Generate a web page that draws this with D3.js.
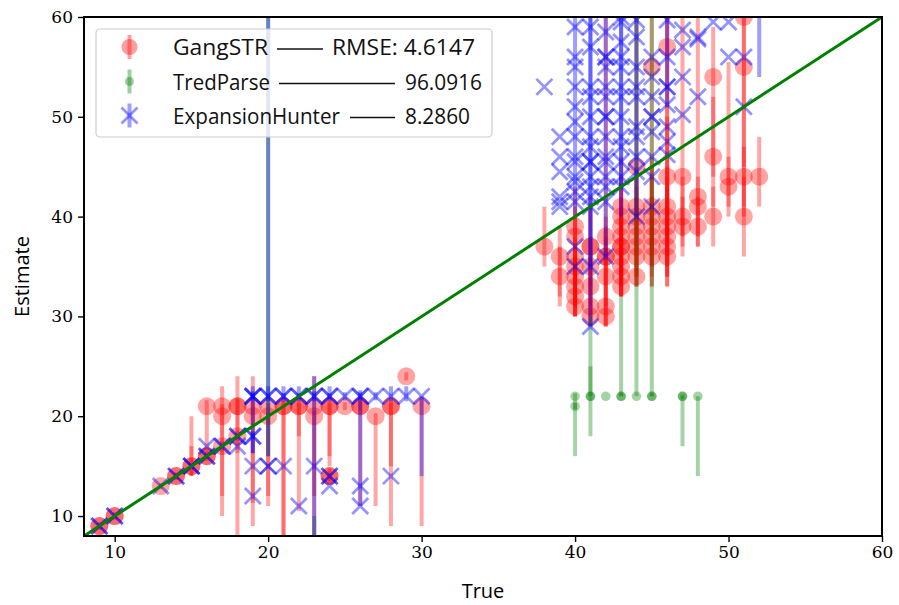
<!DOCTYPE html>
<html><head><meta charset="utf-8">
<script src="https://cdn.jsdelivr.net/npm/d3@7"></script>
<style>body{margin:0;background:#fff}svg{display:block}</style>
</head><body>
<svg id="chart" width="899" height="605"></svg>
<script>
// ---------------- DATA ----------------
// GangSTR: true length, estimate, error-bar low, error-bar high
const gsTrue = [9,9,10,10,13,14,14,15,15,16,16,16,17,17,17,18,18,18,19,19,20,20,21,21,22,22,23,23,24,24,24,24,25,26,26,27,28,28,29,30,
  38,39,39,40,40,40,40,40,40,40,41,41,41,41,41,42,42,42,42,42,43,43,43,43,43,43,43,43,43,
  44,44,44,44,44,44,44,44,45,45,45,45,45,45,45,46,46,46,46,46,46,46,46,47,47,47,48,48,48,49,49,49,50,50,51,51,51,51,52,
  40,41,42,43];
const gsEst = [9,9,10,10,13,14,14,15,15,16,16,21,17,20,21,18,21,21,21,20,21,20,21,21,21,21,21,20,21,21,14,14,21,21,21,20,21,21,24,21,
  37,36,34,39,38,36,35,34,33,32,37,37,35,33,31,38,36,34,31,36,41,40,39,38,37,37,36,35,33,
  41,40,39,38,37,36,34,45,41,40,39,38,37,36,55,41,40,39,38,37,36,57,44,44,40,39,42,41,39,54,46,40,44,43,60,55,44,40,44,
  31,30,30,34];
const gsLow = [8.6,8.7,9.6,9.7,12.7,13.6,13.7,14,14,15.5,15.7,16.6,16.5,10,12,17.5,8,16.3,11.3,9,12,11,8,7,10.5,18,8,12,15,16,13.2,13.5,20.6,11,20.5,11,9,15,23.6,9,
  35,32,31,34,33,31,30,31,30,30,32,33,31,30,29,33,31,29,29,32,36,35,34,33,32,33,32,32,32,
  37,36,34,33,34,33,33,40,36,35,35,34,33,33,37,36,35,34,33,33,34,40,38,38,36,37,37,38,37,44,41,37,41,40,40,45,41,36,41,
  30,29,29,32];
const gsHigh = [9.4,9.3,10.4,10.3,13.3,14.4,14.3,20,17,16.6,16.4,21.6,17.5,23,21.2,18.5,24,21.7,21.5,24,21.3,20.3,21.5,21.3,21.3,21.5,24,20.5,21.5,21.3,14.8,14.5,21.4,22,21.5,20.3,21.5,21.3,24.4,22,
  41,39,37,43,41,40,38,37,36,35,42,41,38,36,34,62,40,38,33,39,46,44,43,42,41,40,40,38,36,
  45,44,43,42,41,40,37,62,46,45,44,42,42,40,62,62,45,44,43,41,40,62,50,62,44,42,62,44,42,59,52,43,55.5,46,62,62,47,44,48,
  33,32,32,37];

// TredParse
const tpTrue = [20,23,40,40,41,41,42,43,43,44,45,45,47,47,48];
const tpEst  = [150,-20,22,21,22,22,22,22,22,22,22,22,22,22,22];
const tpLow  = [16,-60,16,20.7,18,22,22,22,22,22,22,22,17,21.8,14];
const tpHigh = [300,10,22.3,21.3,30,25,22,32,22.3,62,62,22.3,22,22.2,22];

// ExpansionHunter
const ehTrue = [9,9,10,10,13,14,14,15,15,15,16,16,16,17,17,18,18,18,19,19,
  19,19,19,20,20,21,21,22,22,23,23,24,24,25,26,26,27,28,29,30,
  19,20,20,21,23,24,24,28,24,26,19,22,26,
  38,39,39,39,39,40,40,40,40,40,40,40,40,40,40,40,
  41,41,41,41,41,41,41,41,41,41,41,
  42,42,42,42,42,42,42,42,42,42,42,42,
  43,43,43,43,43,43,43,43,43,43,
  44,44,44,44,44,44,44,45,45,45,45,45,46,46,46,46,46,46,47,47,47,47,48,48,48,49,50,50,51,51,52,
  39,39,40,40,40,40,41,41,41,41,42,42,42,43,43,43,44,44,44,45,45,45,45,46,46];
const ehEst = [9,9,10,10,13,14,14,15,15,15,16,16,17,17,17,18,18,17,18,18,
  22,22,22,22,22,22,22,22,22,22,22,22,22,22,22,22,22,22,22,22,
  15,15,15,15,15,14,14,14,13,13,12,11,11,
  53,48,42,41.5,41,59,56,55,51,48,46,45.5,42.5,41.5,37,35,
  53,48,47,45.5,45.5,44,43,42,41,35,29,
  56,56,55,53,50,50,48,46,45.5,44,43,36,
  59.5,56,55,53,52,50,48,45.5,43,60,
  58,53,52,49,48,40,59.7,54,50,50,48.5,41,53,53,47.5,46.2,59.7,51.2,58.7,57,54,50.2,58,57.8,52,59.5,59.5,56,56,51,64,
  46,44.5,53,49.5,44,43.5,50,52,57,59,58.5,52,41.5,57.5,47,44,55,46,44.5,56,52,46,44,56,49];
const ehLow = [9,9,10,10,13,14,14,15,15,15,16,16,17,17,17,18,18,17,16.3,18,
  16.3,21.5,21.7,16,21.5,21.4,21.7,21.5,21.7,8,21.5,21.5,21.7,21.6,11,21.6,21.6,21.5,21.5,14,
  15,15,15,15,15,14,14,14,13,13,12,11,11,
  53,48,42,41.5,41,59,56,55,51,48,46,40,42.5,41.5,37,35,
  53,48,47,29,45.5,35,43,42,41,35,29,
  56,56,55,53,36,50,48,46,45.5,44,43,36,
  59.5,56,55,53,52,40,43,45.5,43,60,
  58,53,52,40,48,40,59.7,54,50,50,48.5,41,51,53,47.5,46.2,59.7,51.2,58.7,57,54,50.2,58,57.8,52,59.5,59.5,56,56,51,54,
  46,44.5,53,49.5,44,43.5,50,52,57,59,58.5,52,41.5,57.5,47,44,55,46,44.5,56,52,46,44,56,49];
const ehHigh = [9,9,10,10,13,14,14,15,15,15,16,16,17,17,17,18,18,17,18.5,18,
  23,22.5,22.3,62,23,23,22.3,23,22.3,24,22.5,23,22.3,22.4,22.6,22.4,22.4,23,23,22,
  15,15,15,15,15,14,14,14,13,13,12,11,11,
  53,48,42,41.5,41,59,56,55,51,48,46,62,42.5,41.5,37,35,
  53,48,47,62,45.5,62,43,42,41,35,29,
  56,56,55,53,62,50,48,46,45.5,44,43,36,
  59.5,56,55,53,52,62,62,45.5,43,60,
  58,53,52,62,48,40,59.7,54,50,50,48.5,41,62,53,47.5,46.2,59.7,51.2,58.7,57,54,50.2,58,57.8,52,59.5,59.5,56,56,51,70,
  46,44.5,53,49.5,44,43.5,50,52,57,59,58.5,52,41.5,57.5,47,44,55,46,44.5,56,52,46,44,56,49];

const legendNames = ["GangSTR","TredParse","ExpansionHunter"];
const legendRmse = ["RMSE: 4.6147","96.0916","8.2860"];
const xTicks = [10,20,30,40,50,60];
const yTicks = [10,20,30,40,50,60];

// ---------------- CHART ----------------
const svg = d3.select("#chart");
const L = 84, R = 882, T = 17, B = 536;
const x = d3.scaleLinear().domain([8,60]).range([L,R]);
const y = d3.scaleLinear().domain([8,60]).range([B,T]);

svg.append("defs").append("clipPath").attr("id","clip")
  .append("rect").attr("x",L).attr("y",T).attr("width",R-L).attr("height",B-T);
const plot = svg.append("g").attr("clip-path","url(#clip)");

function zip(t,e,lo,hi){ return t.map((v,i)=>({t:v,e:e[i],lo:lo[i],hi:hi[i]})); }
const gs = zip(gsTrue,gsEst,gsLow,gsHigh);
const tp = zip(tpTrue,tpEst,tpLow,tpHigh);
const eh = zip(ehTrue,ehEst,ehLow,ehHigh);

function bars(data,color,alpha){
  plot.append("g").selectAll("line").data(data.filter(d=>d.hi>d.lo)).join("line")
    .attr("x1",d=>x(d.t)).attr("x2",d=>x(d.t))
    .attr("y1",d=>y(Math.max(d.lo,-100))).attr("y2",d=>y(Math.min(d.hi,200)))
    .attr("stroke",color).attr("stroke-opacity",alpha).attr("stroke-width",4);
}
// GangSTR
bars(gs,"#ff0000",0.35);
plot.append("g").selectAll("circle").data(gs).join("circle")
  .attr("cx",d=>x(d.t)).attr("cy",d=>y(d.e)).attr("r",9)
  .attr("fill","#ff0000").attr("fill-opacity",0.36);
// TredParse
bars(tp,"#008000",0.35);
plot.append("g").selectAll("circle").data(tp.filter(d=>d.e>0&&d.e<100)).join("circle")
  .attr("cx",d=>x(d.t)).attr("cy",d=>y(d.e)).attr("r",4.8)
  .attr("fill","#008000").attr("fill-opacity",0.35);
// ExpansionHunter
bars(eh,"#0000ff",0.38);
const xs = 8;
const xPath = `M${-xs},${-xs}L${xs},${xs}M${-xs},${xs}L${xs},${-xs}`;
plot.append("g").selectAll("path").data(eh).join("path")
  .attr("transform",d=>`translate(${x(d.t)},${y(d.e)})`)
  .attr("d",xPath).attr("fill","none")
  .attr("stroke","#0000ff").attr("stroke-opacity",0.42).attr("stroke-width",2.8);

// identity line
plot.append("line").attr("x1",x(8)).attr("y1",y(8)).attr("x2",x(60)).attr("y2",y(60))
  .attr("stroke","#008000").attr("stroke-width",3);

// axes
const tickFont = "'DejaVu Serif', serif";
const gx = svg.append("g").attr("transform",`translate(0,${B})`)
  .call(d3.axisBottom(x).tickValues(xTicks).tickSize(6).tickPadding(4).tickFormat(d3.format("d")));
const gy = svg.append("g").attr("transform",`translate(${L},0)`)
  .call(d3.axisLeft(y).tickValues(yTicks).tickSize(6).tickPadding(5).tickFormat(d3.format("d")));
[gx,gy].forEach(g=>{
  g.select(".domain").remove();
  g.selectAll(".tick line").attr("stroke","#000").attr("stroke-width",1.4);
  g.selectAll(".tick text").attr("fill","#000").style("font-family",tickFont).style("font-size","17px");
});
svg.append("rect").attr("x",L).attr("y",T).attr("width",R-L).attr("height",B-T)
  .attr("fill","none").attr("stroke","#000").attr("stroke-width",2);

const labFont = "'Open Sans', sans-serif";
svg.append("text").attr("x",(L+R)/2).attr("y",598).attr("text-anchor","middle")
  .style("font-family",labFont).style("font-size","20px").text("True");
svg.append("text").attr("transform",`translate(29,${(T+B)/2}) rotate(-90)`).attr("text-anchor","middle")
  .style("font-family",labFont).style("font-size","20px").text("Estimate");

// legend
const lg = svg.append("g");
lg.append("rect").attr("x",96).attr("y",29).attr("width",396).attr("height",108).attr("rx",4)
  .attr("fill","#fff").attr("fill-opacity",0.8).attr("stroke","#cccccc").attr("stroke-width",1.2);
const rowY = [47,81.5,115.5];
const lineSeg = [[277,323],[279,395],[350,395]];
const numX = [332,405,405];
const nameW = [95,97,167];
const numW = [143,77,65];
const colors = ["#ff0000","#008000","#0000ff"];
rowY.forEach((ry,i)=>{
  lg.append("line").attr("x1",129.5).attr("x2",129.5).attr("y1",ry-12).attr("y2",ry+12)
    .attr("stroke",colors[i]).attr("stroke-opacity",0.38).attr("stroke-width",4);
  if(i===0) lg.append("circle").attr("cx",129.5).attr("cy",ry).attr("r",8).attr("fill",colors[i]).attr("fill-opacity",0.38);
  if(i===1) lg.append("circle").attr("cx",129.5).attr("cy",ry).attr("r",4.5).attr("fill",colors[i]).attr("fill-opacity",0.38);
  if(i===2) lg.append("path").attr("transform",`translate(129.5,${ry})`).attr("d",xPath).attr("fill","none")
    .attr("stroke",colors[i]).attr("stroke-opacity",0.42).attr("stroke-width",2.8);
  lg.append("text").attr("x",173).attr("y",ry+8).style("font-family",labFont).style("font-size","22px")
    .attr("textLength",nameW[i]).attr("lengthAdjust","spacingAndGlyphs")
    .attr("fill","#111").text(legendNames[i]);
  lg.append("line").attr("x1",lineSeg[i][0]).attr("x2",lineSeg[i][1]).attr("y1",ry+2).attr("y2",ry+2)
    .attr("stroke","#111").attr("stroke-width",1.3);
  lg.append("text").attr("x",numX[i]).attr("y",ry+8).style("font-family",labFont).style("font-size","22px")
    .attr("textLength",numW[i]).attr("lengthAdjust","spacingAndGlyphs")
    .attr("fill","#111").text(legendRmse[i]);
});
</script>
</body></html>
